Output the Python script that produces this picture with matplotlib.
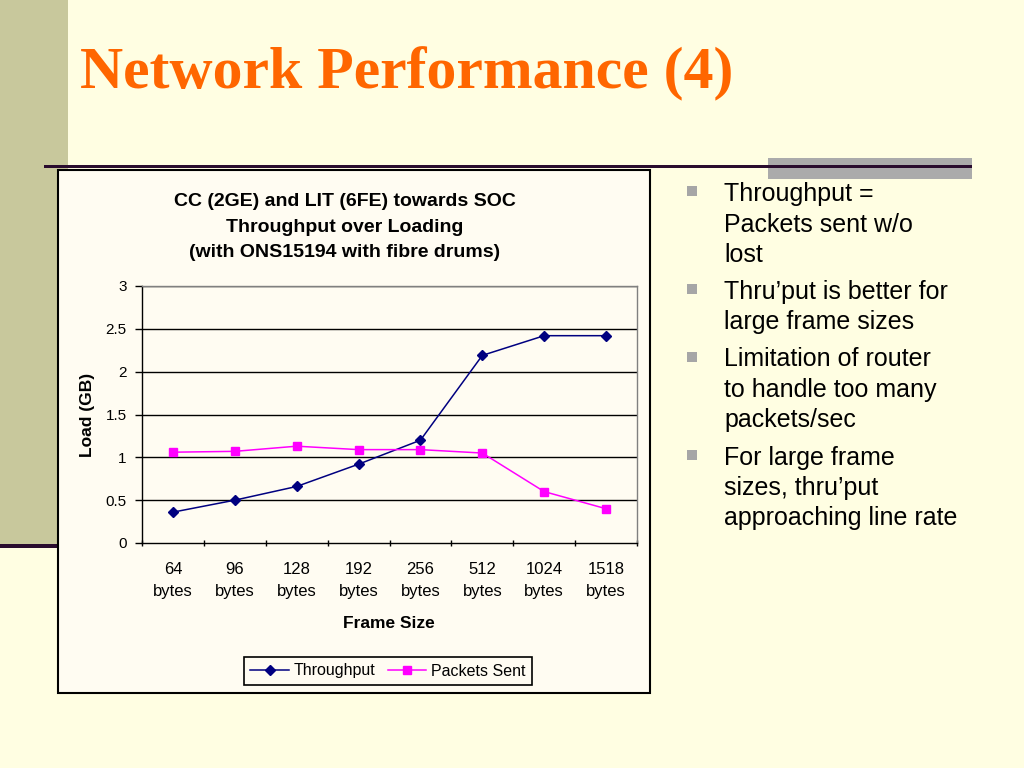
import matplotlib
matplotlib.use("Agg")
import matplotlib.pyplot as plt
from matplotlib.patches import Rectangle

categories = ["64\nbytes", "96\nbytes", "128\nbytes", "192\nbytes", "256\nbytes",
              "512\nbytes", "1024\nbytes", "1518\nbytes"]
throughput = [0.36, 0.50, 0.66, 0.92, 1.20, 2.19, 2.42, 2.42]
packets_sent = [1.06, 1.07, 1.13, 1.09, 1.09, 1.05, 0.60, 0.40]
y_ticks = [0, 0.5, 1, 1.5, 2, 2.5, 3]
y_tick_labels = ["0", "0.5", "1", "1.5", "2", "2.5", "3"]

slide_title = "Network Performance (4)"
chart_title = "CC (2GE) and LIT (6FE) towards SOC\nThroughput over Loading\n(with ONS15194 with fibre drums)"
bullets = [
    "Throughput =\nPackets sent w/o\nlost",
    "Thru\u2019put is better for\nlarge frame sizes",
    "Limitation of router\nto handle too many\npackets/sec",
    "For large frame\nsizes, thru\u2019put\napproaching line rate",
]

W, H = 1024, 768
SLIDE_BG = "#FFFEE2"
CHART_BG = "#FFFCF2"
BAND = "#C8C89C"
DARK = "#2A0C2E"

plt.rcParams["font.family"] = ["Liberation Sans", "DejaVu Sans"]

fig = plt.figure(figsize=(W / 100, H / 100), dpi=100)
fig.patch.set_facecolor(SLIDE_BG)


def fx(x):
    return x / W


def fy(y):
    return 1 - y / H


# left band
fig.patches.append(Rectangle((0, fy(546)), fx(68), 1 - fy(546), transform=fig.transFigure,
                             facecolor=BAND, edgecolor="none", zorder=0))
# bottom-left dark line
fig.patches.append(Rectangle((0, fy(548)), fx(60), (548 - 544) / H, transform=fig.transFigure,
                             facecolor=DARK, edgecolor="none", zorder=1))
# grey bar top right
fig.patches.append(Rectangle((fx(768), fy(179)), fx(972 - 768), (179 - 158) / H, transform=fig.transFigure,
                             facecolor="#ABABAB", edgecolor="none", zorder=1))
# top horizontal line
fig.patches.append(Rectangle((fx(44), fy(167.5)), fx(972 - 44), 3 / H, transform=fig.transFigure,
                             facecolor=DARK, edgecolor="none", zorder=2))
# chart box
fig.patches.append(Rectangle((fx(58), fy(693)), fx(650 - 58), (693 - 170) / H, transform=fig.transFigure,
                             facecolor=CHART_BG, edgecolor="black", linewidth=1.5, zorder=3))

# slide title
fig.text(fx(80), fy(88), slide_title, family=["Liberation Serif", "DejaVu Serif"], fontweight="bold",
         fontsize=43, color="#FF6600", ha="left", va="baseline")

# chart title
fig.text(fx(345), fy(227), chart_title, fontweight="bold", fontsize=14, ha="center", va="center",
         linespacing=1.65, zorder=5)

ax = fig.add_axes([fx(142), fy(543), fx(637 - 142), (543 - 286) / H])
ax.set_zorder(5)
ax.set_facecolor(CHART_BG)
x = list(range(len(categories)))
ax.plot(x, throughput, color="#000080", marker="D", markersize=5.5, linewidth=1.1,
        label="Throughput", zorder=4)
ax.plot(x, packets_sent, color="#FF00FF", marker="s", markersize=5.5, linewidth=1.1,
        label="Packets Sent", zorder=4)

ax.set_xlim(-0.5, len(categories) - 0.5)
ax.set_ylim(0, 3)
ax.set_yticks(y_ticks)
ax.set_yticklabels(y_tick_labels, fontsize=11)
for yv in y_ticks[1:]:
    ax.axhline(yv, color="black", linewidth=1, zorder=1)

ax.set_xticks([i - 0.5 for i in range(len(categories) + 1)])
ax.set_xticklabels([])
ax.set_xticks(x, minor=True)
ax.set_xticklabels(categories, minor=True, fontsize=12, linespacing=1.55)
ax.tick_params(axis="x", which="minor", length=0, pad=14)
ax.tick_params(axis="x", which="major", length=5, direction="inout", width=1)
ax.tick_params(axis="y", which="major", length=5, width=1, direction="out", pad=6)

for s in ["top", "right"]:
    ax.spines[s].set_color("#808080")
    ax.spines[s].set_linewidth(1)
for s in ["left", "bottom"]:
    ax.spines[s].set_color("black")
    ax.spines[s].set_linewidth(1)

ax.set_ylabel("Load (GB)", fontweight="bold", fontsize=12.5)
ax.yaxis.set_label_coords((95 - 142) / (637 - 142), 0.5)

fig.text(fx(389), fy(624), "Frame Size", fontweight="bold", fontsize=12.5, ha="center", va="center", zorder=6)

leg = fig.legend(loc="center", bbox_to_anchor=(fx(388), fy(671)), ncol=2, fontsize=11.5,
                 frameon=True, fancybox=False, edgecolor="black", facecolor=CHART_BG,
                 handlelength=2.4, handletextpad=0.3, columnspacing=0.8, borderpad=0.4)
leg.get_frame().set_linewidth(1.2)
leg.get_frame().set_alpha(1)
leg.set_zorder(7)

# bullets
y0 = 194
line_h = 30.5
gap = 6.5
for b in bullets:
    n = b.count("\n") + 1
    fig.patches.append(Rectangle((fx(687), fy(y0 + 2)), fx(10), 10 / H, transform=fig.transFigure,
                                 facecolor="#A6A6A6", edgecolor="none", zorder=4))
    for i, line in enumerate(b.split("\n")):
        fig.text(fx(724), fy(y0 + i * line_h), line, fontsize=18, ha="left", va="center", zorder=5)
    y0 += n * line_h + gap

fig.savefig("out.png", dpi=100, facecolor=fig.get_facecolor())
